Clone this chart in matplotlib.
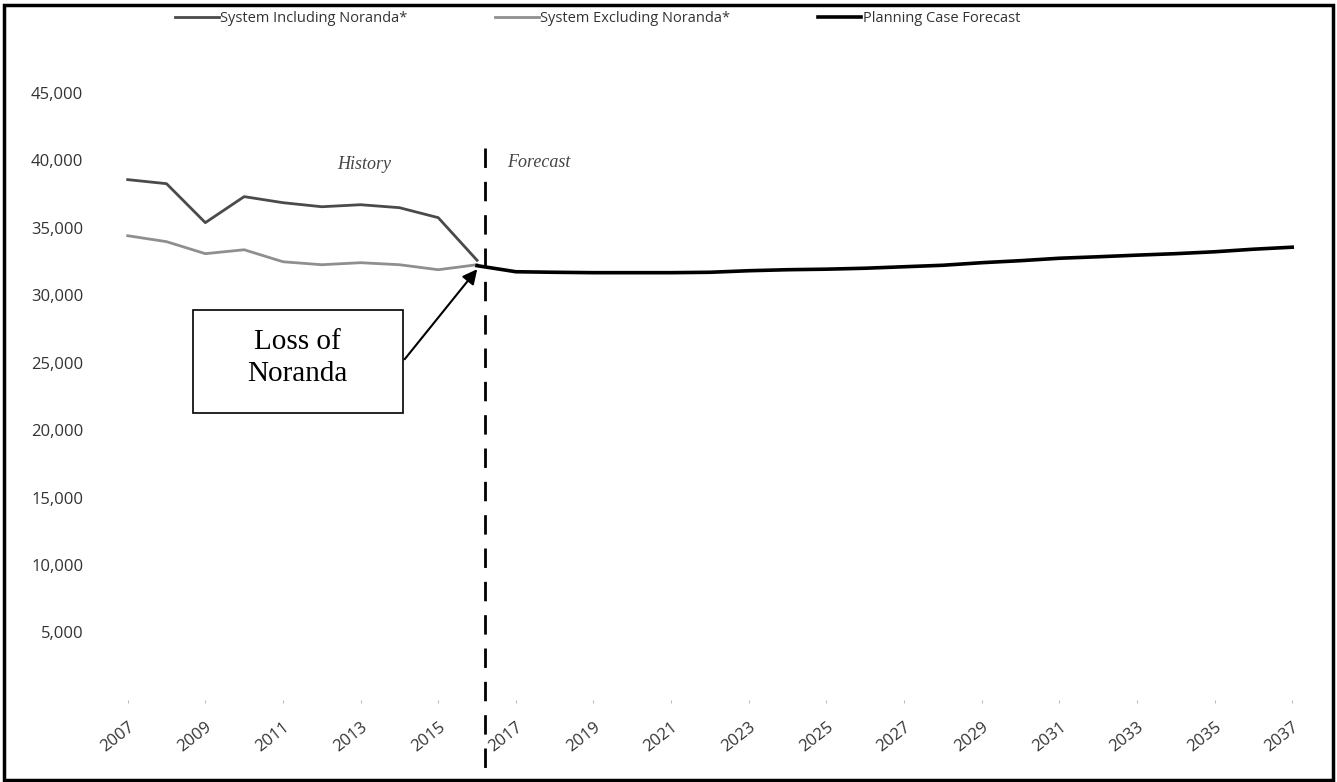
import matplotlib
matplotlib.use("Agg")
import matplotlib.pyplot as plt
from matplotlib.patches import Rectangle

plt.rcParams["font.family"] = ["Open Sans", "DejaVu Sans"]

# history, weather-normalized peak (MW)
hist_years = list(range(2007, 2017))
incl_noranda = [38580, 38280, 35390, 37320, 36870, 36570, 36720, 36500, 35760, 32600]
excl_noranda = [34420, 33980, 33090, 33380, 32490, 32270, 32420, 32270, 31900, 32270]

# planning case forecast
fcst_years = list(range(2016, 2038))
planning_case = [32200, 31750, 31710, 31680, 31680, 31680, 31710, 31825, 31900, 31940, 32010,
                 32120, 32230, 32420, 32570, 32750, 32860, 32980, 33090, 33230, 33420, 33570]

tick_years = list(range(2007, 2038, 2))
y_ticks = [5000, 10000, 15000, 20000, 25000, 30000, 35000, 40000, 45000]

fig = plt.figure(figsize=(13.37, 7.82), dpi=100)
ax = fig.add_axes([0.081, 0.105, 0.9, 0.776])

ax.plot(hist_years, incl_noranda, color="#4a4a4a", lw=2.0, label="System Including Noranda*")
ax.plot(hist_years, excl_noranda, color="#8f8f8f", lw=2.0, label="System Excluding Noranda*")
ax.plot(fcst_years, planning_case, color="black", lw=2.6, label="Planning Case Forecast")

# history / forecast divider
ax.plot([2016.2, 2016.2], [40950, -5600], color="black", lw=2, ls=(0, (7, 5)), clip_on=False)
ax.text(2013.1, 39700, "History", style="italic", family="Liberation Serif",
        fontsize=13, color="#444444", ha="center", va="center")
ax.text(2017.6, 39850, "Forecast", style="italic", family="Liberation Serif",
        fontsize=13, color="#444444", ha="center", va="center")

# callout box
ax.add_patch(Rectangle((2008.68, 21290), 5.41, 7640, fill=False, ec="black", lw=1.2))
ax.text(2011.38, 25350, "Loss of\nNoranda", family="Liberation Serif", fontsize=21,
        ha="center", va="center", linespacing=1.3)
ax.annotate("", xy=(2016.05, 32100), xytext=(2014.09, 25100),
            arrowprops=dict(arrowstyle="-|>", color="black", lw=1.5, mutation_scale=22))

ax.set_xlim(2006.5, 2037.5)
ax.set_ylim(0, 45000)
ax.set_yticks(y_ticks)
ax.set_yticklabels([f"{v:,}" for v in y_ticks])
ax.set_xticks(tick_years)
ax.set_xticklabels([str(y) for y in tick_years], rotation=38, ha="right",
                   rotation_mode="anchor")
ax.tick_params(axis="y", length=0, pad=18, labelsize=12, labelcolor="#333333")
ax.tick_params(axis="x", length=2, color="#bbbbbb", pad=12, labelsize=12, labelcolor="#333333")
for s in ax.spines.values():
    s.set_visible(False)

fig.legend(loc="upper center", bbox_to_anchor=(0.447, 1.003), ncol=3, frameon=False,
           fontsize=10.5, handlelength=3, handletextpad=0.1, columnspacing=6.0,
           labelcolor="#333333")

# outer frame
fig.patches.append(Rectangle((0.003, 0.003), 0.994, 0.99, transform=fig.transFigure,
                             fill=False, ec="black", lw=2.5))

fig.savefig("out.png", dpi=100)
